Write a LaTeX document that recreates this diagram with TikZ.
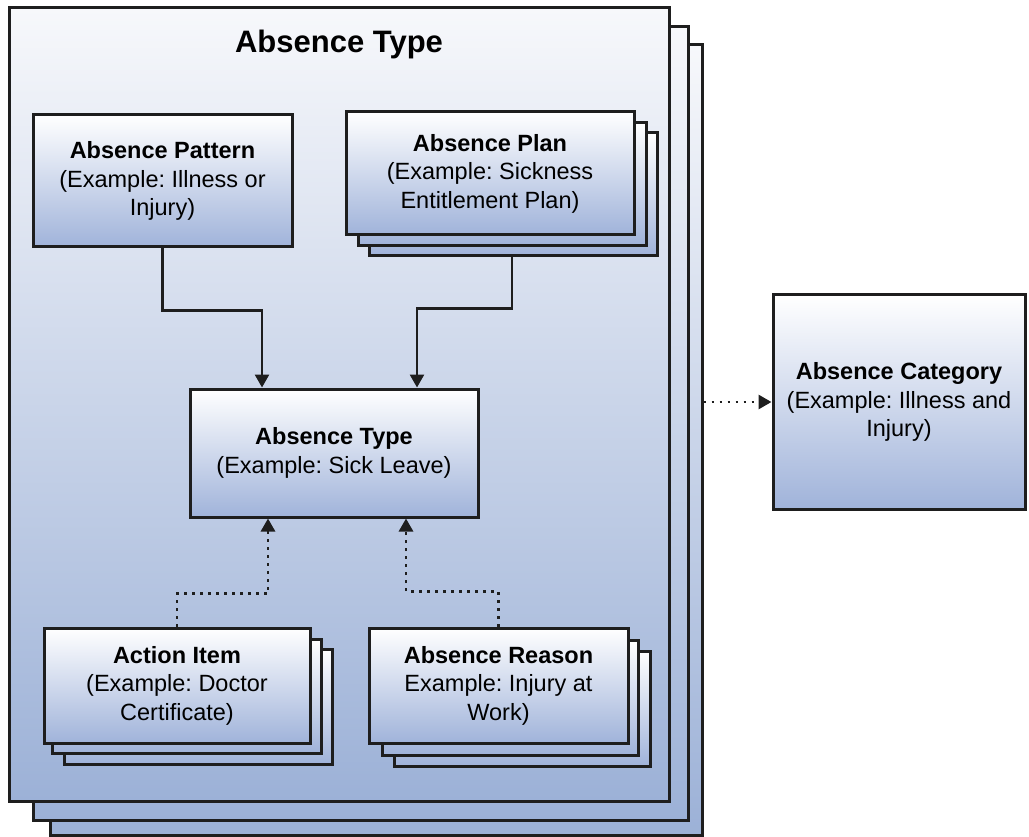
\documentclass[tikz,border=0pt]{standalone}
\usepackage{fontspec}
\setmainfont{Liberation Sans}
\usetikzlibrary{arrows.meta,calc}
\definecolor{boxblue}{RGB}{160,179,218}
\definecolor{framebot}{RGB}{156,177,215}
\definecolor{frametop}{RGB}{247,248,251}
\definecolor{edge}{RGB}{30,30,30}
\frenchspacing
\begin{document}
\begin{tikzpicture}[x=1pt,y=-1pt,
  frame/.style={draw=edge,line width=3pt,top color=frametop,bottom color=framebot,inner sep=0pt},
  box/.style={draw=edge,line width=3pt,top color=white,bottom color=boxblue,inner sep=0pt,align=center,
    font=\fontsize{23.5}{28.5}\selectfont},
  stackbox/.style={draw=edge,line width=3pt,top color=white,bottom color=boxblue},
  conn/.style={draw=edge,line width=2.6pt,-{Triangle[length=13pt,width=14pt]}},
  dconn/.style={draw=edge,line width=2.8pt,dash pattern=on 2.8pt off 5.2pt,-{Triangle[length=13pt,width=14pt]}},
  title/.style={font=\fontsize{31}{36}\selectfont\bfseries}
]
\useasboundingbox (0,0) rectangle (1029,837);
% frames
\node[frame,minimum width=652pt,minimum height=790pt] (fr3) at (376,440) {};
\node[frame,minimum width=655pt,minimum height=793pt] (fr2) at (360.5,423.5) {};
\node[frame,minimum width=660pt,minimum height=793pt] (fr1) at (339,404.5) {};
\node[title,anchor=base] (ttl) at (339,53) {Absence Type};
% absence pattern
\node[box,minimum width=259pt,minimum height=132pt] (pat) at (162.5,181)
  {\textbf{Absence Pattern}\\(Example: Illness or\\Injury)};
% absence plan stack
\path[stackbox] ([shift={(23pt,-21pt)}]346,112) rectangle ([shift={(23pt,-21pt)}]634,235);
\path[stackbox] ([shift={(12pt,-11pt)}]346,112) rectangle ([shift={(12pt,-11pt)}]634,235);
\node[box,minimum width=288pt,minimum height=123pt] (plan) at (490,173.5)
  {\textbf{Absence Plan}\\(Example: Sickness\\Entitlement Plan)};
\coordinate (plan3) at ([shift={(22pt,-21pt)}]plan.south);
% absence type
\node[box,minimum width=288pt,minimum height=128pt] (typ) at (334,453)
  {\textbf{Absence Type}\\(Example: Sick Leave)};
% action item stack
\path[stackbox] ([shift={(20pt,-21pt)}]44,628) rectangle ([shift={(22pt,-21pt)}]310,743);
\path[stackbox] ([shift={(8pt,-11pt)}]44,628) rectangle ([shift={(11pt,-10pt)}]310,743);
\node[box,minimum width=266pt,minimum height=115pt] (act) at (177,685.5)
  {\textbf{Action Item}\\(Example: Doctor\\Certificate)};
% absence reason stack
\path[stackbox] ([shift={(25pt,-23pt)}]369,628) rectangle ([shift={(22pt,-23pt)}]628,743);
\path[stackbox] ([shift={(13pt,-12pt)}]369,628) rectangle ([shift={(10pt,-12pt)}]628,743);
\node[box,minimum width=259pt,minimum height=115pt] (rea) at (498.5,685.5)
  {\textbf{Absence Reason}\\Example: Injury at\\Work)};
% absence category
\node[box,minimum width=252pt,minimum height=214pt] (cat) at (899,402)
  {\textbf{Absence Category}\\(Example: Illness and\\Injury)};
% connectors
\draw[conn] (pat.south) -- ++(0,62) -| ([xshift=-72pt]typ.north);
\draw[conn] (plan3) -- ++(0,51) -| ([xshift=83pt]typ.north);
\draw[dconn] (act.north) -- ++(0,-33) -| ([xshift=-66pt]typ.south);
\draw[dconn] (rea.north) -- ++(0,-35) -| ([xshift=72pt]typ.south);
\draw[dconn] (fr3.east |- cat.west) -- (cat.west);
\end{tikzpicture}
\end{document}
